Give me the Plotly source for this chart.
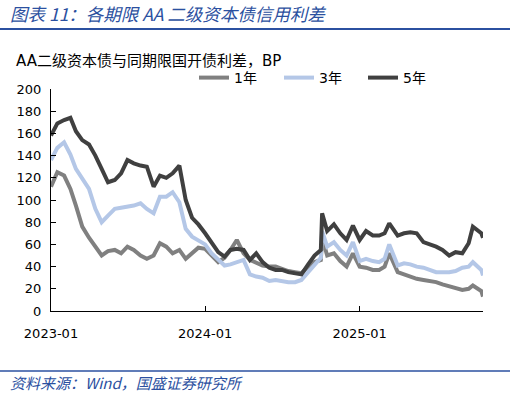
import plotly.graph_objects as go

dates = [
    "2023-01-01", "2023-01-16", "2023-02-01", "2023-02-16", "2023-03-01", "2023-03-16",
    "2023-04-01", "2023-04-16", "2023-05-01", "2023-05-16", "2023-06-01", "2023-06-16",
    "2023-07-01", "2023-07-16", "2023-08-01", "2023-08-16", "2023-09-01", "2023-09-16",
    "2023-10-01", "2023-10-16", "2023-11-01", "2023-11-16", "2023-12-01", "2023-12-16",
    "2024-01-01", "2024-01-16", "2024-02-01", "2024-02-16", "2024-03-01", "2024-03-16",
    "2024-04-01", "2024-04-16", "2024-05-01", "2024-05-16", "2024-06-01", "2024-06-16",
    "2024-07-01", "2024-07-16", "2024-08-01", "2024-08-16", "2024-09-01", "2024-09-16",
    "2024-10-01", "2024-10-04", "2024-10-16", "2024-11-01", "2024-11-16", "2024-12-01",
    "2024-12-16", "2025-01-01", "2025-01-16", "2025-02-01", "2025-02-16", "2025-03-01",
    "2025-03-12", "2025-04-01", "2025-04-16", "2025-05-01", "2025-05-16", "2025-06-01",
    "2025-06-16", "2025-07-01", "2025-07-16", "2025-08-01", "2025-08-16", "2025-09-01",
    "2025-09-16", "2025-09-26", "2025-10-16", "2025-10-20",
]

y1 = [
    112, 125, 122, 110, 95, 76,
    66, 58, 50, 54, 55, 52,
    58, 55, 50, 47, 50, 61,
    58, 52, 55, 47, 52, 57,
    56, 50, 44, 48, 55, 64,
    52, 46, 43, 41, 40, 40,
    38, 36, 35, 34, 40, 44,
    46, 66, 50, 52, 45, 40,
    52, 40, 39, 37, 37, 40,
    52, 35, 33, 31, 29, 28,
    27, 26, 24, 22, 21, 19,
    20, 23, 18, 13,
]

y3 = [
    136, 147, 152, 141, 128, 120,
    110, 92, 80, 86, 92, 93,
    94, 95, 97, 92, 88, 103,
    103, 107, 98, 74, 67, 64,
    60, 52, 46, 41, 42, 44,
    46, 33, 31, 30, 27, 28,
    27, 26, 26, 28, 35, 42,
    48, 72, 58, 62, 55, 50,
    62, 45, 47, 45, 44, 47,
    60, 41, 43, 42, 40, 39,
    37, 35, 35, 35, 36, 39,
    40, 44, 37, 32,
]

y5 = [
    158, 169, 172, 174, 162, 154,
    150, 140, 128, 116, 118, 124,
    136, 133, 131, 130, 112, 122,
    120, 124, 131, 100, 84, 78,
    70, 62, 53, 49, 55, 56,
    55, 46, 52, 44, 39, 37,
    37, 35, 34, 33, 42, 50,
    55, 88, 72, 78, 70, 64,
    77, 64, 72, 68, 68, 70,
    79, 68, 70, 71, 70, 62,
    60, 58, 55, 50, 53, 52,
    61, 76, 70, 66,
]

series_names = ["1年", "3年", "5年"]
series_colors = ["#808080", "#B4C7E7", "#404040"]

title_text = "图表 11：各期限 AA 二级资本债信用利差"
subtitle_text = "AA二级资本债与同期限国开债利差，BP"
source_text = "资料来源：Wind，国盛证券研究所"
y_ticks = [0, 20, 40, 60, 80, 100, 120, 140, 160, 180, 200]
x_ticks = ["2023-01-01", "2024-01-01", "2025-01-01"]
x_ticklabels = ["2023-01", "2024-01", "2025-01"]

W, H = 510, 396
L, R, T, B = 51, 27, 89, 85
PW, PH = W - L - R, H - T - B


def px(x):
    return (x - L) / PW


def py(y):
    return (H - B - y) / PH


legend_ids = ["legend", "legend2", "legend3"]
legend_left_px = [194, 279, 363]

fig = go.Figure()
for name, vals, col, lg in zip(series_names, [y1, y3, y5], series_colors, legend_ids):
    fig.add_trace(go.Scatter(x=dates, y=vals, mode="lines", name=name, legend=lg,
                             line=dict(color=col, width=4)))

legend_common = dict(orientation="h", xanchor="left", yanchor="middle",
                     font=dict(family="DejaVu Sans, Noto Sans CJK SC", size=14),
                     bgcolor="rgba(0,0,0,0)", itemwidth=30)

blue = "#2B50A0"
fig.update_layout(
    width=W, height=H,
    margin=dict(l=L, r=R, t=T, b=B),
    paper_bgcolor="white", plot_bgcolor="white",
    font=dict(family="DejaVu Sans, Noto Sans CJK SC", size=13, color="#000000"),
    showlegend=True,
    xaxis=dict(type="date", range=["2023-01-01", "2025-10-20"],
               tickvals=x_ticks, ticktext=x_ticklabels,
               showline=True, linecolor="#000000", linewidth=1.3,
               ticks="inside", ticklen=5, tickcolor="#000000",
               showgrid=False, zeroline=False, ticklabelstandoff=10,
               tickfont=dict(size=13)),
    yaxis=dict(range=[0, 200], tickvals=y_ticks,
               showline=True, linecolor="#000000", linewidth=1.3,
               ticks="inside", ticklen=5, tickcolor="#000000",
               showgrid=False, zeroline=False, ticklabelstandoff=6,
               tickfont=dict(size=13)),
)
for lg, lx in zip(legend_ids, legend_left_px):
    fig.update_layout({lg: dict(x=px(lx), y=py(78), **legend_common)})

fig.add_shape(type="line", xref="paper", yref="paper",
              x0=px(0), x1=px(W), y0=py(29), y1=py(29),
              line=dict(color=blue, width=2))
fig.add_shape(type="line", xref="paper", yref="paper",
              x0=px(0), x1=px(W), y0=py(371), y1=py(371),
              line=dict(color=blue, width=1.5))

fig.add_annotation(text=title_text, xref="paper", yref="paper", x=px(8), y=py(14),
                   xanchor="left", yanchor="middle", showarrow=False,
                   font=dict(family="Noto Sans CJK SC", size=17.5, color=blue, style="italic"))
fig.add_annotation(text=subtitle_text, xref="paper", yref="paper", x=px(14), y=py(61),
                   xanchor="left", yanchor="middle", showarrow=False,
                   font=dict(family="DejaVu Sans, Noto Sans CJK SC", size=15, color="#000000"))
fig.add_annotation(text=source_text, xref="paper", yref="paper", x=px(8), y=py(382),
                   xanchor="left", yanchor="middle", showarrow=False,
                   font=dict(family="Noto Sans CJK SC", size=15, color=blue, style="italic"))

fig.write_html("out.html", config={"displayModeBar": False},
               post_script="document.body.style.margin='0';document.body.style.padding='0';")
